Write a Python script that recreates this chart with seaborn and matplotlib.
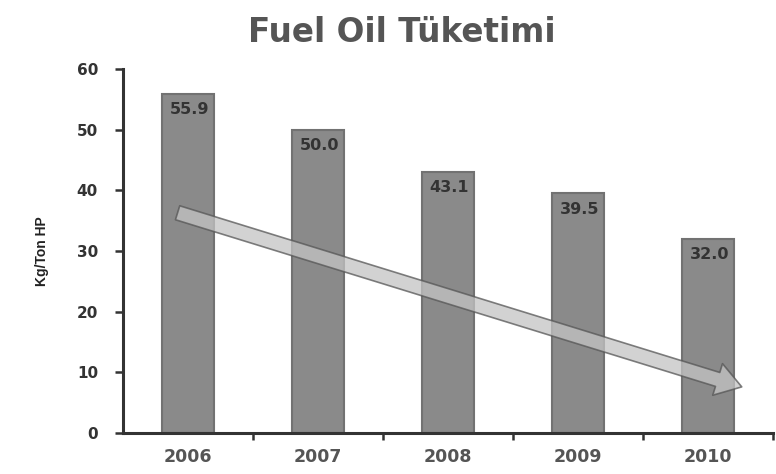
import matplotlib
matplotlib.use("Agg")
import matplotlib.pyplot as plt
import seaborn as sns
import pandas as pd

years = ["2006", "2007", "2008", "2009", "2010"]
values = [55.9, 50.0, 43.1, 39.5, 32.0]
labels = ["55.9", "50.0", "43.1", "39.5", "32.0"]
title = "Fuel Oil Tüketimi"
ylabel = "Kg/Ton HP"

sns.set_theme(style="white")
plt.rcParams['font.family'] = ['DejaVu Sans']

df = pd.DataFrame({"year": years, "value": values})

fig = plt.figure(figsize=(7.76, 4.74), dpi=100)
ax = fig.add_axes([0.1585, 0.0865, 0.8376, 0.768])

sns.barplot(data=df, x="year", y="value", color="#8a8a8a", saturation=1,
            width=0.40, edgecolor="#727272", linewidth=1.5, ax=ax)

for i, (v, t) in enumerate(zip(values, labels)):
    ax.annotate(t, xy=(i, v), xytext=(1, -6), textcoords="offset points",
                ha="center", va="top", fontsize=11.5, fontweight="bold", color="#333333")

ax.set_xlim(-0.5, 4.5)
ax.set_ylim(0, 60)
ax.set_yticks([0, 10, 20, 30, 40, 50, 60])
ax.set_xlabel("")
ax.set_ylabel(ylabel, fontsize=10, fontweight="bold", color="#222222", labelpad=20,
              family=["Liberation Sans Narrow", "Liberation Sans", "DejaVu Sans"])
fig.text(402 / 776, 1 - 33 / 474, title, fontsize=23.5, fontweight="bold",
         color="#555555", ha="center", va="center")

for s in ["top", "right"]:
    ax.spines[s].set_visible(False)
for s in ["left", "bottom"]:
    ax.spines[s].set_color("#333333")
    ax.spines[s].set_linewidth(2.2)

ax.tick_params(axis="y", which="major", direction="out", length=6, width=1.8,
               color="#333333", labelsize=11, pad=12, left=True)
ax.tick_params(axis="x", which="major", length=0, labelsize=12.5, pad=11)
ax.set_xticks([0.5, 1.5, 2.5, 3.5, 4.5], minor=True)
ax.tick_params(axis="x", which="minor", direction="out", length=5, width=1.8,
               color="#333333", bottom=True)
for lab in ax.get_yticklabels():
    lab.set_fontweight("bold")
    lab.set_color("#333333")
for lab in ax.get_xticklabels():
    lab.set_fontweight("bold")
    lab.set_color("#555555")

ax.annotate("", xy=(4.26, 7.6), xytext=(-0.08, 36.3),
            arrowprops=dict(arrowstyle="simple,head_length=1.3,head_width=1.7,tail_width=0.75",
                            fc="#c4c4c4", ec="#555555", alpha=0.75, lw=1.2,
                            mutation_scale=14, shrinkA=0, shrinkB=0))

fig.savefig("out.png", dpi=100)
